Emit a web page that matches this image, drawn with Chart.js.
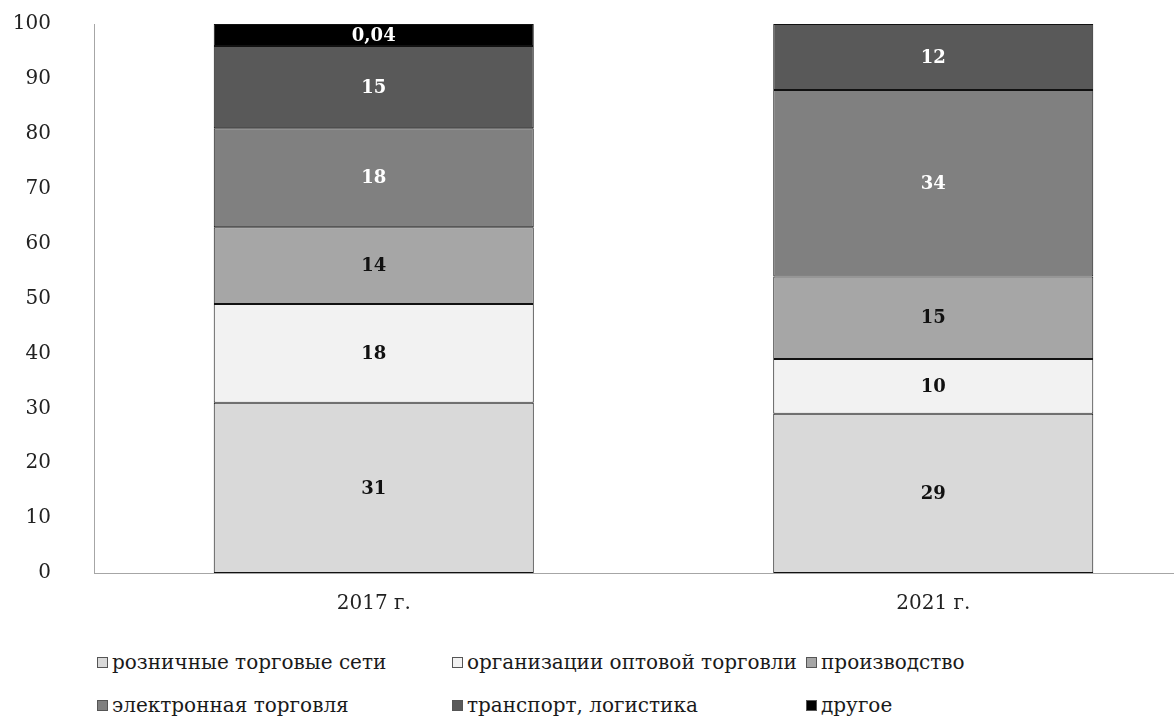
<!DOCTYPE html>
<html>
<head>
<meta charset="utf-8">
<script src="https://cdn.jsdelivr.net/npm/chart.js@4.4.1/dist/chart.umd.min.js"></script>
<style>
  body { margin: 0; background: #fff; overflow: hidden; }
  #wrap { position: relative; width: 1174px; height: 719px; overflow: hidden; }
  #legend { position: absolute; left: 0; top: 646px; width: 1174px; font-family: "DejaVu Serif", serif; font-size: 20px; color: #1a1a1a; }
  .item { position: absolute; white-space: nowrap; line-height: 24px; }
  .box { display: inline-block; width: 9px; height: 9px; border: 1px solid #555; margin-right: 4px; vertical-align: 1px; }
</style>
</head>
<body>
<div id="wrap">
  <!-- the original plot runs past the right edge of the picture, so the canvas is wider than the page -->
  <canvas id="chart1" width="1213" height="640"></canvas>
  <div id="legend"></div>
</div>
<script>
var years = ['2017 г.', '2021 г.'];
var seriesNames = ['розничные торговые сети', 'организации оптовой торговли', 'производство',
  'электронная торговля', 'транспорт, логистика', 'другое'];
var retail = [31, 29];
var wholesale = [18, 10];
var production = [14, 15];
var ecommerce = [18, 34];
var transport = [15, 12];
var other = [4, 0];          // drawn height in the picture
var otherLabels = ['0,04', ''];  // printed label

var fills = ['#d9d9d9', '#f2f2f2', '#a6a6a6', '#808080', '#595959', '#000000'];
var labelColors = ['#111', '#111', '#111', '#fff', '#fff', '#fff'];
var values = [retail, wholesale, production, ecommerce, transport, other];

var serif = '"DejaVu Serif", serif';

// draws the numbers inside the bar segments
var segmentLabels = {
  id: 'segmentLabels',
  afterDatasetsDraw: function (chart) {
    var ctx = chart.ctx;
    ctx.save();
    ctx.font = 'bold 18px ' + serif;
    ctx.textAlign = 'center';
    ctx.textBaseline = 'middle';
    chart.data.datasets.forEach(function (ds, i) {
      chart.getDatasetMeta(i).data.forEach(function (bar, j) {
        var v = ds.data[j];
        if (!v) return;
        var text = i === 5 ? otherLabels[j] : String(v);
        ctx.fillStyle = labelColors[i];
        ctx.fillText(text, bar.x, (bar.y + bar.base) / 2 + 1);
      });
    });
    ctx.restore();
  }
};

var config = {
  type: 'bar',
  data: {
    labels: years,
    datasets: seriesNames.map(function (name, i) {
      return {
        label: name,
        data: values[i],
        backgroundColor: fills[i],
        borderColor: '#111',
        borderWidth: 1,
        borderSkipped: false,
        barPercentage: 0.572,
        categoryPercentage: 1
      };
    })
  },
  options: {
    responsive: false,
    animation: false,
    layout: { padding: { top: 24, right: 0, bottom: 0, left: 0 } },
    plugins: {
      legend: { display: false },
      tooltip: { enabled: false }
    },
    scales: {
      x: {
        stacked: true,
        grid: { display: false, drawTicks: false },
        border: { color: '#a6a6a6', width: 1 },
        ticks: { color: '#222', font: { family: serif, size: 20 }, padding: 19 },
        afterFit: function (scale) { scale.height = 67; }
      },
      y: {
        stacked: true,
        min: 0,
        max: 100,
        grid: { display: false, drawTicks: false },
        border: { color: '#a6a6a6', width: 1 },
        ticks: { stepSize: 10, color: '#222', font: { family: serif, size: 20 }, padding: 43 },
        afterFit: function (scale) {
          scale.width = 94;
          // tick padding would otherwise push the plot down
          scale.paddingTop = 0;
          scale.paddingBottom = 0;
        }
      }
    }
  },
  plugins: [segmentLabels]
};

var ctx = document.getElementById('chart1').getContext('2d');
window.chart1 = new Chart(ctx, config);

// legend laid out in a 3-column grid like the original
var legendCols = [97, 452, 806];
var legendRows = [4, 47];
var legend = document.getElementById('legend');
seriesNames.forEach(function (name, i) {
  var el = document.createElement('div');
  el.className = 'item';
  el.style.left = legendCols[i % 3] + 'px';
  el.style.top = legendRows[Math.floor(i / 3)] + 'px';
  el.innerHTML = '<span class="box" style="background:' + fills[i] + '"></span>' + name;
  legend.appendChild(el);
});
</script>
</body>
</html>
